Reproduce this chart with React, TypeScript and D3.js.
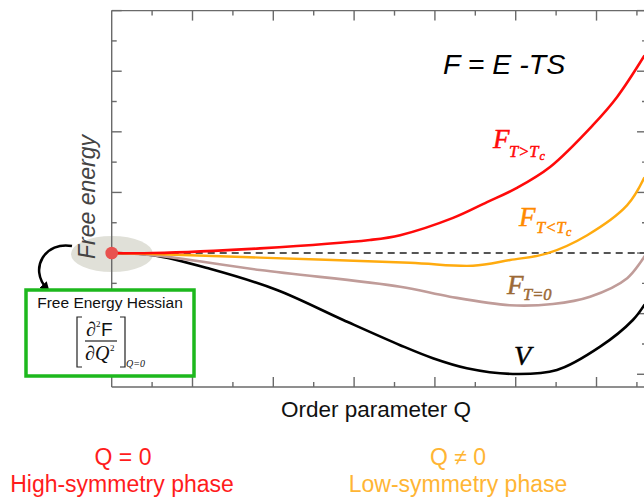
import React from "react";
import * as d3 from "d3";

// Free-energy curves F(Q), energy measured relative to F(Q = 0)
const aboveTcQ = [0, 1.02, 3.67, 6.39, 7.14, 8.45, 9.29, 10.03, 10.85, 11.91, 12.51, 13.18];
const aboveTcF = [0, 0, 0.155, 0.43, 0.59, 1.16, 1.68, 2.15, 2.84, 4.22, 5.15, 6.5];

const belowTcQ = [0, 1.02, 3.67, 7.38, 8.94, 9.86, 10.78, 11.77, 12.76, 13.18];
const belowTcF = [0, -0.03, -0.15, -0.32, -0.42, -0.23, -0.01, 0.59, 1.58, 2.48];

const zeroTQ = [0, 1.02, 3.67, 7.14, 8.37, 9.85, 10.92, 11.84, 12.76, 13.18];
const zeroTF = [0, -0.07, -0.56, -1.11, -1.44, -1.72, -1.68, -1.44, -0.83, -0.12];

const potentialQ = [0, 1.02, 2.43, 4.09, 5.73, 7.14, 7.95, 8.79, 9.93, 11.02, 12.09, 12.9, 13.18];
const potentialV = [0, -0.07, -0.52, -1.22, -2.21, -3.04, -3.47, -3.8, -3.99, -3.86, -3.09, -2.21, -1.72];

const xTicks = d3.range(1, 14);
const yTicks = d3.range(-4, 9);

const W = 644;
const H = 497;
const SANS = "'Liberation Sans', Arial, sans-serif";
const SERIF = "'Liberation Serif', 'Times New Roman', serif";

export default function App() {
  const x = d3.scaleLinear().domain([0, 13.2]).range([111.7, 645]);
  const y = d3.scaleLinear().domain([-4.42, 8]).range([387, 10.6]);
  const xRight = x(13.25);

  const line = (qs: number[], fs: number[]) =>
    d3
      .line<number>()
      .x((q) => x(q))
      .y((_, i) => y(fs[i]))
      .curve(d3.curveCatmullRom.alpha(0.5))(qs) as string;

  const axisColor = "#6a6a6a";

  return (
    <svg
      width={W}
      height={H}
      style={{ position: "absolute", left: 0, top: 0, background: "#fff" }}
    >
      <defs>
        <marker
          id="arrowHead"
          viewBox="0 0 10 10"
          refX="6"
          refY="5"
          markerWidth="4"
          markerHeight="4"
          orient="auto"
        >
          <path d="M0,0 L10,5 L0,10 z" fill="#000" />
        </marker>
      </defs>

      {/* highlight around Q = 0 */}
      <ellipse cx={112} cy={254} rx={41} ry={18} fill="#d8d8ce" opacity={0.8} />

      {/* frame */}
      <g stroke={axisColor} strokeWidth={1.4} fill="none">
        <line x1={x(0)} y1={y(8)} x2={W} y2={y(8)} />
        <line x1={x(0)} y1={y(8)} x2={x(0)} y2={y(-4.42)} />
        <line x1={x(0)} y1={y(-4.42)} x2={W} y2={y(-4.42)} />
        {xTicks.map((t) => {
          const len = t % 2 === 0 ? 10 : 5;
          return (
            <g key={"xt" + t}>
              <line x1={x(t)} x2={x(t)} y1={y(-4.42)} y2={y(-4.42) - len} />
              <line x1={x(t)} x2={x(t)} y1={y(8)} y2={y(8) + len} />
            </g>
          );
        })}
        {yTicks.map((t) => {
          const len = t % 2 === 0 ? 10 : 5;
          return (
            <g key={"yt" + t}>
              <line x1={x(0)} x2={x(0) + len} y1={y(t)} y2={y(t)} />
              <line x1={xRight} x2={xRight - len} y1={y(t)} y2={y(t)} />
            </g>
          );
        })}
      </g>

      {/* reference level F(Q=0) */}
      <line
        x1={x(0)}
        x2={W}
        y1={y(0)}
        y2={y(0)}
        stroke="#555"
        strokeWidth={2}
        strokeDasharray="7,5"
      />

      <g fill="none" strokeLinejoin="round" strokeLinecap="round">
        <path d={line(potentialQ, potentialV)} stroke="#000" strokeWidth={2.6} />
        <path d={line(zeroTQ, zeroTF)} stroke="#c09c99" strokeWidth={2.6} />
        <path d={line(belowTcQ, belowTcF)} stroke="#ffab0f" strokeWidth={2.4} />
        <path d={line(aboveTcQ, aboveTcF)} stroke="#ff0a0a" strokeWidth={2.6} />
      </g>

      <circle cx={x(0)} cy={y(0)} r={6.3} fill="#e8524f" />

      {/* axis titles */}
      <text
        transform="translate(94.5,197) rotate(-90)"
        textAnchor="middle"
        fontFamily={SANS}
        fontStyle="italic"
        fontSize={23}
        fill="#444"
      >
        Free energy
      </text>
      <text x={376} y={417} textAnchor="middle" fontFamily={SANS} fontSize={22.5} fill="#111">
        Order parameter Q
      </text>

      <text x={443} y={74} fontFamily={SANS} fontStyle="italic" fontSize={28.5} fill="#000">
        F = E -TS
      </text>

      {/* curve labels */}
      <g fontFamily={SERIF} fontStyle="italic" strokeWidth={0.5}>
        <g fill="#ff0a0a" stroke="#ff0a0a">
          <text x={493} y={147.5} fontSize={27}>F</text>
          <text x={509} y={156.5} fontSize={16.5}>T&gt;T</text>
          <text x={539.5} y={159.5} fontSize={12}>c</text>
        </g>
        <g fill="#ff8a00" stroke="#ff8a00">
          <text x={519} y={225.5} fontSize={27}>F</text>
          <text x={536} y={233} fontSize={16.5}>T&lt;T</text>
          <text x={566} y={236} fontSize={12}>c</text>
        </g>
        <g fill="#9c6a36" stroke="#9c6a36">
          <text x={507} y={294} fontSize={27}>F</text>
          <text x={523} y={300} fontSize={16.5}>T=0</text>
        </g>
        <text x={514} y={365} fontSize={28} fill="#000" stroke="#000">V</text>
      </g>

      {/* curved arrow to the Hessian box */}
      <path
        d="M72,246 C46,241 28,268 47,289"
        fill="none"
        stroke="#000"
        strokeWidth={2.5}
        markerEnd="url(#arrowHead)"
      />

      {/* Hessian box */}
      <rect x={26} y={290} width={168} height={86} fill="#fff" stroke="#1db81d" strokeWidth={3.5} />
      <text x={110} y={308} textAnchor="middle" fontFamily={SANS} fontSize={15.5} fill="#111">
        Free Energy Hessian
      </text>
      <g stroke="#222" strokeWidth={1.2} fill="none">
        <path d="M82,317 H77 V367 H82" />
        <path d="M120,317 H125 V367 H120" />
        <line x1={85} x2={117} y1={341} y2={341} />
      </g>
      <g fill="#111">
        <text x={86} y={336} fontFamily={SERIF} fontSize={20}>∂</text>
        <text x={96} y={327} fontFamily={SERIF} fontSize={9}>2</text>
        <text x={101} y={336} fontFamily={SANS} fontSize={19}>F</text>
        <text x={85} y={360} fontFamily={SERIF} fontSize={20}>∂</text>
        <text x={95} y={360} fontFamily={SERIF} fontStyle="italic" fontSize={20}>Q</text>
        <text x={110} y={351} fontFamily={SERIF} fontSize={9}>2</text>
        <text x={126} y={367} fontFamily={SERIF} fontStyle="italic" fontSize={10}>Q=0</text>
      </g>

      {/* phase annotations */}
      <g fontFamily={SANS} fontSize={23} textAnchor="middle">
        <text x={123} y={465} fill="#ff1c1c">Q = 0</text>
        <text x={122} y={492} fill="#ff1c1c">High-symmetry phase</text>
        <text x={458} y={465} fill="#ffb534">Q ≠ 0</text>
        <text x={458} y={492} fill="#ffb534">Low-symmetry phase</text>
      </g>
    </svg>
  );
}
